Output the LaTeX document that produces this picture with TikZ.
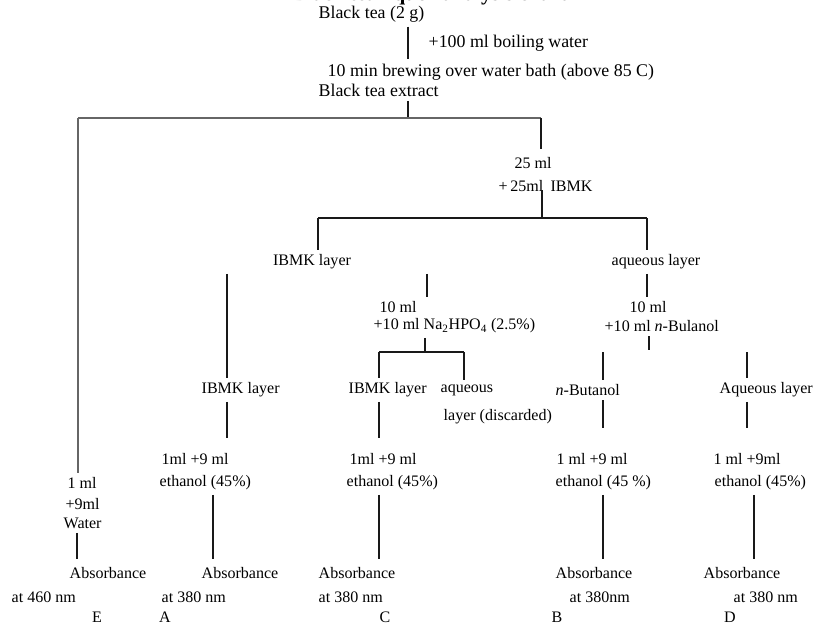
\documentclass[tikz,border=0pt]{standalone}
\usepackage{fontspec}
\setmainfont{Liberation Serif}
\usepackage{tikz}
\newcommand{\topsize}{\fontsize{12.7}{15}\selectfont}
\newcommand{\lowsize}{\fontsize{11.4}{13}\selectfont}
\newcommand{\titlesize}{\fontsize{15}{18}\selectfont}
\tikzset{
  txt/.style={inner xsep=1pt,inner ysep=3pt,font=\lowsize,anchor=west},
  toptxt/.style={txt,font=\topsize},
  ctxt/.style={txt,anchor=center},
  link/.style={line width=1.1pt,black!90},
  trunk/.style={line width=0.9pt,black!60}
}

\begin{document}
\begin{tikzpicture}[x=0.025cm,y=-0.025cm]
  \useasboundingbox (0,0) rectangle (813,625);
  % Kopf
  \node[anchor=base,inner sep=0pt,font=\titlesize\bfseries] (title) at (430,0) {Black tea liquor analysis chart};
  \node[toptxt] (tea) at (317,14) {Black tea (2 g)};
  \node[toptxt] (boil) at (427,43) {+100 ml boiling water};
  \node[toptxt] (brew) at (326,72) {10 min brewing over water bath (above 85 C)};
  \node[toptxt] (extract) at (317,90) {Black tea extract};
  \node[ctxt] (ml25) at (533,163) {25 ml};
  \node[txt] (ibmkadd) at (497,186) {+\,25ml\hspace{0.45em}IBMK};
  \node[ctxt] (ibmk1) at (312,262) {IBMK layer};
  \node[ctxt] (aq1) at (656,262) {aqueous layer};
  % zweite Trennung
  \node[ctxt] (ten1) at (398,307) {10 ml};
  \node[txt] (na) at (372,326) {+10 ml Na\textsubscript{2}HPO\textsubscript{4} (2.5\%)};
  \node[ctxt] (ten2) at (648,307) {10 ml};
  \node[txt] (bul) at (603,326) {+10 ml \textit{n}-Bulanol};
  \node[txt] (ibmkA) at (200,390) {IBMK layer};
  \node[txt] (ibmkC) at (347,390) {IBMK layer};
  \node[txt] (aq2) at (439,390) {aqueous};
  \node[txt] (disc) at (442,417) {layer (discarded)};
  \node[txt] (but) at (554,390) {\textit{n}-Butanol};
  \node[txt] (aq3) at (718,390) {Aqueous layer};
  % Verduennung
  \node[txt] (mlA) at (160,459) {1ml +9 ml};
  \node[txt] (mlC) at (348,459) {1ml +9 ml};
  \node[txt] (mlB) at (555,459) {1 ml +9 ml};
  \node[txt] (mlD) at (712,459) {1 ml +9ml};
  \node[txt] (etA) at (158,483) {ethanol (45\%)};
  \node[txt] (etC) at (345,483) {ethanol (45\%)};
  \node[txt] (etB) at (554,483) {ethanol (45 \%)};
  \node[txt] (etD) at (713,483) {ethanol (45\%)};
  \node[txt] (mlE) at (66,483) {1 ml};
  \node[txt] (addE) at (64,504) {+9ml};
  \node[txt] (water) at (62,523) {Water};
  % Messung
  \node[txt] (absE) at (68,573) {Absorbance};
  \node[txt] (absA) at (200,573) {Absorbance};
  \node[txt] (absC) at (317,573) {Absorbance};
  \node[txt] (absB) at (554,573) {Absorbance};
  \node[txt] (absD) at (702,573) {Absorbance};
  \node[txt] (nmE) at (10,597) {at 460 nm};
  \node[txt] (nmA) at (160,597) {at 380 nm};
  \node[txt] (nmC) at (317,597) {at 380 nm};
  \node[txt] (nmB) at (568,597) {at 380nm};
  \node[txt] (nmD) at (732,597) {at 380 nm};
  \node[ctxt] (sE) at (97,617) {E};
  \node[ctxt] (sA) at (165,617) {A};
  \node[ctxt] (sC) at (385,617) {C};
  \node[ctxt] (sB) at (557,617) {B};
  \node[ctxt] (sD) at (730,617) {D};

  % Verbindungen
  \coordinate (b1l) at (78,118);
  \coordinate (b1m) at (408,118);
  \coordinate (b1r) at (541,118);
  \coordinate (b2l) at (318,218);
  \coordinate (b2m) at (542,218);
  \coordinate (b2r) at (647,218);
  \coordinate (b3l) at (379,352);
  \coordinate (b3m) at (425,352);
  \coordinate (b3r) at (464,352);
  \coordinate (bulend) at (649,350);
  \coordinate (butop) at (603,352);
  \coordinate (aqtop) at (747,352);

  \draw[link] (tea.south -| b1m) -- (brew.north -| b1m);
  \draw[link] (extract.south -| b1m) -- (b1m);
  \draw[trunk] (b1l) -- (b1r);
  \draw[trunk] (b1l) -- (mlE.north -| b1l);
  \draw[link] (b1r) -- ([yshift=3pt]ml25.north -| b1r);
  \draw[link] (water.south -| 77,0) -- ([yshift=3pt]absE.north -| 77,0);

  \draw[link] ([yshift=-3pt]ibmkadd.center -| b2m) -- (b2m);
  \draw[link] (b2l) -- (b2r);
  \draw[link] (b2l) -- (ibmk1.north -| b2l);
  \draw[link] (b2r) -- (aq1.north -| b2r);

  \draw[link] (ibmk1.south -| 227,0) -- (ibmkA.north -| 227,0);
  \draw[link] (ibmkA.south -| 227,0) -- ([yshift=8pt]mlA.north -| 227,0);
  \draw[link] (etA.south -| 213,0) -- ([yshift=3pt]absA.north -| 213,0);

  \draw[link] (ibmk1.south -| 427,0) -- (ten1.north -| 427,0);
  \draw[link] (na.south -| b3m) -- (b3m);
  \draw[link] (b3l) -- (b3r);
  \draw[link] (b3l) -- (ibmkC.north -| b3l);
  \draw[link] (b3r) -- (aq2.north -| b3r);
  \draw[link] (ibmkC.south -| b3l) -- ([yshift=8pt]mlC.north -| b3l);
  \draw[link] (etC.south -| b3l) -- ([yshift=3pt]absC.north -| b3l);

  \draw[link] (aq1.south -| b2r) -- (ten2.north -| b2r);
  \draw[link] (bul.south -| bulend) -- (bulend);
  \draw[link] (butop) -- (but.north -| butop);
  \draw[link] (but.south -| butop) -- ([yshift=15pt]mlB.north -| butop);
  \draw[link] (etB.south -| butop) -- ([yshift=3pt]absB.north -| butop);
  \draw[link] (aqtop) -- (aq3.north -| aqtop);
  \draw[link] (aq3.south -| aqtop) -- ([yshift=15pt]mlD.north -| aqtop);
  \draw[link] (etD.south -| 754,0) -- ([yshift=3pt]absD.north -| 754,0);
\end{tikzpicture}
\end{document}
